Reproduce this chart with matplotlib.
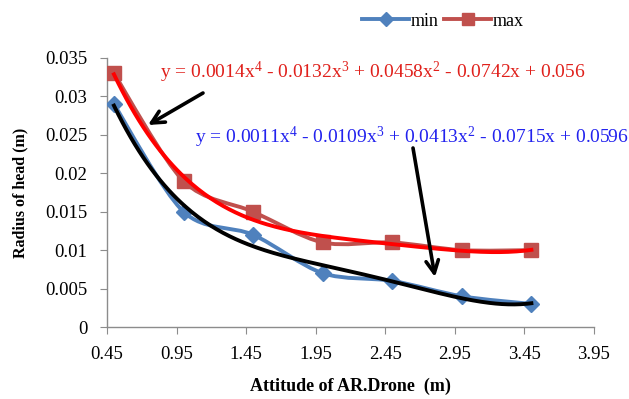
import numpy as np
import matplotlib
matplotlib.use("Agg")
import matplotlib.pyplot as plt
from matplotlib.path import Path
from matplotlib.patches import PathPatch, FancyArrowPatch
from matplotlib.lines import Line2D

plt.rcParams['font.family'] = ['Liberation Serif', 'DejaVu Serif']
plt.rcParams['mathtext.fontset'] = 'custom'
plt.rcParams['mathtext.rm'] = 'Liberation Serif'
plt.rcParams['mathtext.it'] = 'Liberation Serif'

# ---- data ----
altitude = [0.5, 1.0, 1.5, 2.0, 2.5, 3.0, 3.5]
radius_min = [0.029, 0.015, 0.012, 0.007, 0.006, 0.004, 0.003]
radius_max = [0.033, 0.019, 0.015, 0.011, 0.011, 0.010, 0.010]
x_ticks = [0.45, 0.95, 1.45, 1.95, 2.45, 2.95, 3.45, 3.95]
x_tick_labels = ['0.45', '0.95', '1.45', '1.95', '2.45', '2.95', '3.45', '3.95']
y_ticks = [0, 0.005, 0.01, 0.015, 0.02, 0.025, 0.03, 0.035]
y_tick_labels = ['0', '0.005', '0.01', '0.015', '0.02', '0.025', '0.03', '0.035']
eq_max = r'y = 0.0014x$^{4}$ - 0.0132x$^{3}$ + 0.0458x$^{2}$ - 0.0742x + 0.056'
eq_min = r'y = 0.0011x$^{4}$ - 0.0109x$^{3}$ + 0.0413x$^{2}$ - 0.0715x + 0.0596'

BLUE = '#4F81BD'
RED = '#C0504D'

fig = plt.figure(figsize=(6.29, 3.99), dpi=100)
ax = fig.add_axes([107/629, 1-327/399, (594-107)/629, (327-58)/399])


def smooth_path(xs, ys, t=0.3):
    """Excel-like smoothed line via cubic Bezier segments (Catmull-Rom)."""
    xs = np.asarray(xs, float); ys = np.asarray(ys, float)
    n = len(xs)
    verts = [(xs[0], ys[0])]
    codes = [Path.MOVETO]
    for i in range(n - 1):
        p0 = np.array([xs[max(i-1, 0)], ys[max(i-1, 0)]])
        p1 = np.array([xs[i], ys[i]])
        p2 = np.array([xs[i+1], ys[i+1]])
        p3 = np.array([xs[min(i+2, n-1)], ys[min(i+2, n-1)]])
        c1 = p1 + (p2 - p0) * t * 0.5
        c2 = p2 - (p3 - p1) * t * 0.5
        verts += [tuple(c1), tuple(c2), tuple(p2)]
        codes += [Path.CURVE4] * 3
    return Path(verts, codes)


for ys, col, mk, ms in [(radius_min, BLUE, 'D', 8), (radius_max, RED, 's', 10)]:
    ax.add_patch(PathPatch(smooth_path(altitude, ys), facecolor='none',
                           edgecolor=col, lw=2.8, zorder=2))
    ax.plot(altitude, ys, linestyle='none', marker=mk, ms=ms, color=col, zorder=3)

# polynomial (order 4) trendlines
xx = np.linspace(altitude[0], altitude[-1], 200)
cmax = np.polyfit(altitude, radius_max, 4)
cmin = np.polyfit(altitude, radius_min, 4)
ax.plot(xx, np.polyval(cmax, xx), color='#FF0000', lw=2.8, zorder=4)
ax.plot(xx, np.polyval(cmin, xx), color='black', lw=2.8, zorder=4)

ax.set_xlim(0.45, 3.95)
ax.set_ylim(0, 0.035)
ax.set_xticks(x_ticks)
ax.set_xticklabels(x_tick_labels)
ax.set_yticks(y_ticks)
ax.set_yticklabels(y_tick_labels)
for s in ['top', 'right']:
    ax.spines[s].set_visible(False)
for s in ['left', 'bottom']:
    ax.spines[s].set_color('#8C8C8C')
    ax.spines[s].set_linewidth(1.0)
ax.tick_params(axis='both', direction='out', length=5, color='#8C8C8C',
               labelsize=13.5, pad=9)
ax.tick_params(axis='x', pad=9)

ax.set_xlabel('Attitude of AR.Drone  (m)', fontsize=13, fontweight='bold', labelpad=10)
ax.set_ylabel('Radius of head (m)', fontsize=11.5, fontweight='bold', labelpad=12)

# equations
fig.text(160/629, 1-72/399, eq_max, color='#E0201B', fontsize=14, va='center', ha='left')
fig.text(195/629, 1-137/399, eq_min, color='#2222EE', fontsize=14, va='center', ha='left')

# arrows
for start, end in [((203, 93), (148, 125)), ((413, 148), (435, 277))]:
    fig.patches.append(FancyArrowPatch(
        (start[0]/629, 1-start[1]/399), (end[0]/629, 1-end[1]/399),
        transform=fig.transFigure,
        arrowstyle='->,head_length=9,head_width=4.5', color='black', lw=2.6,
        mutation_scale=1, shrinkA=0, shrinkB=0))

# legend
handles = [Line2D([], [], color=BLUE, lw=2.8, marker='D', ms=7),
           Line2D([], [], color=RED, lw=2.8, marker='s', ms=8)]
fig.legend(handles, ['min', 'max'], loc='center', bbox_to_anchor=(443/629, 1-21/399),
           ncol=2, frameon=False, fontsize=13, handlelength=2.6, handletextpad=0.1,
           columnspacing=0.3)

fig.savefig('out.png', dpi=100)
